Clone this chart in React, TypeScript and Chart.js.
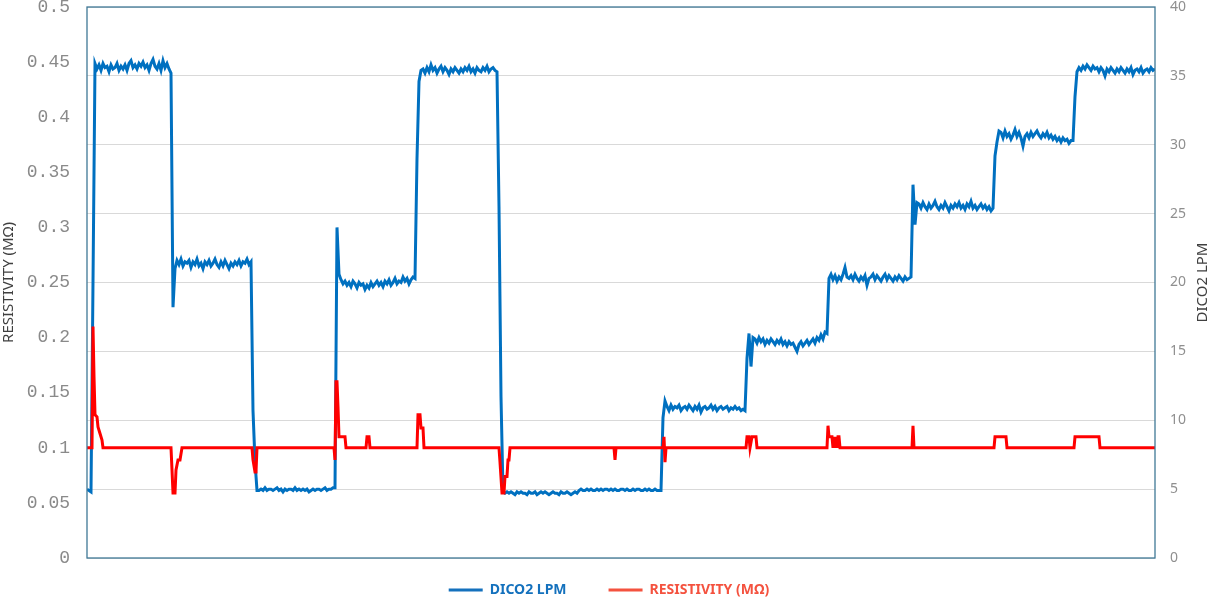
import { useEffect, useRef } from 'react';
import { Chart, registerables } from 'chart.js';

Chart.register(...registerables);

// Sampling: one DICO2 reading every 2 time units, time axis 0..1068
const SAMPLE_STEP = 2;
const TIME_MAX = 1068;

// DICO2 flow (LPM), right axis
const dico2Lpm: number[] = [
  // start + rise
  5.0, 4.9, 4.8, 20.0,
  // plateau 1
  35.9, 35.5, 35.8, 35.4, 35.9, 35.6, 35.7, 35.3, 35.8, 35.5,
  35.6, 35.9, 35.4, 35.7, 35.5, 35.8, 35.4, 35.9, 36.1, 35.6,
  35.8, 35.5, 35.9, 35.7, 36.0, 35.6, 35.8, 35.4, 35.9, 36.2,
  35.7, 35.5, 35.9, 35.4, 36.1, 35.6, 35.9, 35.5,
  // drop
  35.2, 18.2, 21.0,
  // plateau 2
  21.6, 21.3, 21.7, 21.2, 21.5, 21.4, 21.6, 21.1, 21.5, 21.3,
  21.7, 21.2, 21.4, 21.0, 21.5, 21.3, 21.6, 21.2, 21.4, 21.7,
  21.3, 21.1, 21.5, 21.2, 21.6, 21.3, 21.0, 21.4, 21.2, 21.5,
  21.3, 21.6, 21.2, 21.5, 21.4, 21.7, 21.3, 21.5,
  // drop
  10.7, 7.0, 4.9,
  // plateau 3
  4.9, 5.0, 4.9, 5.1, 4.9, 5.0, 5.0, 4.9, 5.0, 5.1,
  4.9, 5.0, 4.8, 5.0, 4.9, 5.0, 5.0, 4.9, 5.1, 4.9,
  5.0, 4.9, 5.0, 4.9, 5.0, 4.8, 4.9, 5.0, 4.9, 5.0,
  5.0, 4.9, 5.0, 5.1, 4.9, 5.0, 5.0, 5.1,
  // rise with spike
  5.1, 24.0, 20.6,
  // plateau 4
  20.2, 19.9, 20.1, 19.8, 20.0, 19.7, 20.1, 19.9, 19.6, 20.0,
  19.8, 19.9, 19.5, 19.8, 19.6, 20.0, 19.7, 19.9, 20.1, 19.8,
  20.0, 19.7, 20.1, 19.9, 20.2, 19.8, 20.0, 20.3, 19.9, 20.1,
  20.0, 20.4, 20.1, 20.3, 19.9, 20.2, 20.4,
  // rise
  20.3, 29.0, 34.6, 35.4,
  // plateau 5
  35.5, 35.2, 35.6, 35.3, 35.8, 35.4, 35.6, 35.2, 35.5, 35.7,
  35.3, 35.6, 35.4, 35.1, 35.5, 35.3, 35.6, 35.4, 35.2, 35.5,
  35.3, 35.6, 35.4, 35.7, 35.3, 35.5, 35.2, 35.6, 35.4, 35.3,
  35.6, 35.4, 35.7, 35.3, 35.5, 35.6, 35.4,
  // drop
  35.3, 25.5, 11.7, 4.8,
  // plateau 6a
  4.7, 4.8, 4.7, 4.8, 4.7, 4.6, 4.8, 4.7, 4.8, 4.7,
  4.7, 4.6, 4.8, 4.7, 4.7, 4.8, 4.6, 4.7, 4.8, 4.7,
  4.8, 4.7, 4.6, 4.7, 4.8, 4.7, 4.7, 4.6, 4.8, 4.7,
  4.7, 4.8, 4.7, 4.6, 4.7, 4.8, 4.7,
  // plateau 6b
  4.9, 5.0, 4.9, 4.9, 5.0, 4.9, 5.0, 4.9, 4.9, 5.0,
  4.9, 5.0, 4.9, 5.0, 5.0, 4.9, 5.0, 4.9, 5.0, 4.9,
  4.9, 5.0, 5.0, 4.9, 5.0, 4.9, 4.9, 5.0, 4.9, 5.0,
  5.0, 4.9, 4.9, 5.0, 4.9, 5.0, 4.9, 4.9, 5.0, 4.9,
  4.9, 4.9,
  // rise
  10.2, 11.4,
  // plateau 7
  11.0, 10.7, 11.1, 10.8, 11.0, 10.9, 11.1, 10.7, 10.9, 11.0,
  10.8, 11.1, 10.9, 10.7, 11.0, 10.8, 11.1, 10.6, 10.9, 11.0,
  10.8, 10.9, 11.1, 10.8, 11.0, 10.7, 10.9, 11.0, 10.8, 10.9,
  11.0, 10.7, 10.9, 10.8, 11.0, 10.8, 10.9, 10.7, 10.8,
  // rise with wobble
  10.7, 14.5, 16.3, 13.9, 16.0,
  // plateau 8
  15.9, 15.6, 16.0, 15.7, 15.9, 15.5, 15.8, 15.6, 15.9, 15.7,
  15.5, 15.8, 15.6, 15.9, 15.5, 15.7, 15.4, 15.7, 15.5, 15.6,
  15.3, 15.0, 15.5, 15.7, 15.4, 15.6, 15.8, 15.5, 15.7, 15.9,
  15.6, 16.0, 15.8, 16.2, 15.9, 16.4,
  // rise
  16.3, 20.3,
  // plateau 9
  20.6, 20.2, 20.5, 20.1, 20.4, 20.2, 20.6, 21.1, 20.4, 20.3,
  20.5, 20.2, 20.6, 20.3, 20.1, 20.4, 20.2, 20.5, 19.8, 20.3,
  20.4, 20.6, 20.2, 20.5, 20.3, 20.1, 20.4, 20.6, 20.2, 20.5,
  20.3, 20.1, 20.4, 20.2, 20.5, 20.3, 20.1, 20.4, 20.2, 20.3,
  20.4,
  // rise with spike
  27.1, 24.2, 25.8,
  // plateau 10
  25.7, 25.4, 25.8, 25.5, 25.3, 25.7, 25.4, 25.6, 25.9, 25.5,
  25.3, 25.6, 25.4, 25.8, 25.5, 25.2, 25.6, 25.4, 25.7, 25.5,
  25.8, 25.4, 25.6, 25.3, 25.7, 25.5, 25.9, 25.4, 25.6, 25.3,
  25.5, 25.7, 25.4, 25.6, 25.3, 25.5, 25.2,
  // rise
  25.4, 29.2, 30.2, 31.0,
  // plateau 11
  30.9, 30.5, 31.0, 30.6, 30.8, 30.4, 30.7, 31.1, 30.6, 30.9,
  30.5, 29.9, 30.6, 30.8, 30.5, 30.9, 30.6, 30.8, 31.0, 30.7,
  30.5, 30.8, 30.6, 30.9, 30.5, 30.7, 30.4, 30.6, 30.3, 30.5,
  30.2, 30.5, 30.3, 30.4, 30.1, 30.3,
  // rise
  30.3, 33.5, 35.3,
  // plateau 12
  35.6, 35.4, 35.7, 35.5, 35.8, 35.6, 35.4, 35.7, 35.5, 35.6,
  35.3, 35.6, 35.4, 35.0, 35.5, 35.3, 35.6, 35.4, 35.2, 35.5,
  35.3, 35.6, 35.4, 35.2, 35.5, 35.3, 35.6, 35.1, 35.4, 35.5,
  35.3, 35.6, 35.2, 35.4, 35.5, 35.3, 35.6, 35.4, 35.5,
];

// Resistivity (MΩ), left axis: change points (time, value)
const resistivityTime: number[] = [
  0, 5, 6, 7, 8, 10, 11, 13, 15, 16,
  84, 85, 86, 88, 89, 91, 93, 95,
  165, 166, 168, 169, 170,
  247, 248, 249, 250, 251, 252, 258, 259,
  279, 280, 282, 283,
  330, 331, 333, 334, 336, 337,
  412, 413, 415, 417, 418, 420, 421, 422, 423,
  527, 528, 529,
  576, 577, 578, 579,
  659, 660, 662, 663, 665, 669, 670,
  740, 741, 742, 745, 746, 747, 748, 749, 750, 751, 752, 753,
  825, 826, 827,
  907, 908, 919, 920,
  987, 988, 1012, 1013, 1068,
];
const resistivityMOhm: number[] = [
  0.1, 0.1, 0.21, 0.165, 0.13, 0.128, 0.119, 0.113, 0.107, 0.1,
  0.1, 0.08, 0.059, 0.059, 0.08, 0.089, 0.089, 0.1,
  0.1, 0.089, 0.078, 0.078, 0.1,
  0.1, 0.089, 0.16, 0.16, 0.137, 0.11, 0.11, 0.1,
  0.1, 0.11, 0.11, 0.1,
  0.1, 0.13, 0.13, 0.118, 0.118, 0.1,
  0.1, 0.087, 0.059, 0.059, 0.074, 0.074, 0.089, 0.089, 0.1,
  0.1, 0.089, 0.1,
  0.1, 0.11, 0.087, 0.1,
  0.1, 0.11, 0.11, 0.1, 0.11, 0.11, 0.1,
  0.1, 0.12, 0.11, 0.11, 0.1, 0.11, 0.1, 0.11, 0.1, 0.11, 0.11, 0.1,
  0.1, 0.12, 0.1,
  0.1, 0.11, 0.11, 0.1,
  0.1, 0.11, 0.11, 0.1, 0.1,
];

const LEFT_TITLE = 'RESISTIVITY (MΩ)';
const RIGHT_TITLE = 'DICO2 LPM';
const DICO_COLOR = '#0070c0';
const RES_COLOR = '#ff0000';
const DICO_LEGEND = '#1471bd';
const RES_LEGEND = '#f4523f';
const FONT_SANS = '"Noto Sans", sans-serif';

const frame = {
  id: 'frame',
  afterLayout(chart: any) {
    const lg = chart.legend;
    if (lg) {
      lg.top = 541;
      lg.bottom = 599;
      lg.height = 58;
      lg.left = 10;
    }
  },
  afterDatasetsDraw(chart: any) {
    const { ctx, chartArea } = chart;
    ctx.save();
    ctx.strokeStyle = '#3f7896';
    ctx.lineWidth = 1.3;
    ctx.strokeRect(chartArea.left, chartArea.top, chartArea.right - chartArea.left, chartArea.bottom - chartArea.top);
    ctx.restore();
  },
  afterDraw(chart: any) {
    const { ctx, chartArea } = chart;
    ctx.save();
    ctx.translate(1203, (chartArea.top + chartArea.bottom) / 2);
    ctx.rotate(-Math.PI / 2);
    ctx.font = `15px ${FONT_SANS}`;
    ctx.fillStyle = '#404040';
    ctx.textAlign = 'center';
    ctx.textBaseline = 'middle';
    ctx.fillText(RIGHT_TITLE, 0, 0);
    ctx.restore();
  },
};

export default function App() {
  const ref = useRef<HTMLCanvasElement | null>(null);

  useEffect(() => {
    if (!ref.current) return;
    const dicoData = dico2Lpm.map((v, i) => ({ x: i * SAMPLE_STEP, y: v }));
    const resData = resistivityTime.map((t, i) => ({ x: t, y: resistivityMOhm[i] }));

    const chart = new Chart(ref.current, {
      type: 'line',
      data: {
        datasets: [
          {
            label: LEFT_TITLE,
            data: resData,
            yAxisID: 'y',
            borderColor: RES_COLOR,
            backgroundColor: RES_COLOR,
            borderWidth: 3,
            pointRadius: 0,
            tension: 0,
            fill: false,
          },
          {
            label: RIGHT_TITLE,
            data: dicoData,
            yAxisID: 'y1',
            borderColor: DICO_COLOR,
            backgroundColor: DICO_COLOR,
            borderWidth: 3,
            pointRadius: 0,
            tension: 0,
            fill: false,
          },
        ],
      },
      options: {
        animation: false,
        responsive: false,
        maintainAspectRatio: false,
        layout: { padding: { top: 7, left: 0, right: 0, bottom: 0 } },
        plugins: {
          tooltip: { enabled: false },
          legend: {
            position: 'bottom',
            maxHeight: 20,
            labels: {
              padding: 42,
              boxWidth: 34,
              boxHeight: 3,
              font: { family: FONT_SANS, size: 14, weight: 'bold' },
              generateLabels: () => [
                { text: RIGHT_TITLE, fillStyle: DICO_LEGEND, strokeStyle: DICO_LEGEND, lineWidth: 0, fontColor: DICO_LEGEND, hidden: false, datasetIndex: 1 },
                { text: LEFT_TITLE, fillStyle: RES_LEGEND, strokeStyle: RES_LEGEND, lineWidth: 0, fontColor: RES_LEGEND, hidden: false, datasetIndex: 0 },
              ],
            },
          },
        },
        scales: {
          x: {
            type: 'linear',
            min: 0,
            max: TIME_MAX,
            grid: { display: false, drawTicks: false },
            border: { display: false },
            ticks: { display: false },
            afterFit: (s: any) => {
              s.height = 21;
              s.paddingLeft = 0;
              s.paddingRight = 0;
            },
          },
          y: {
            position: 'left',
            min: 0,
            max: 0.5,
            ticks: {
              stepSize: 0.05,
              padding: 17,
              color: '#8a8a8a',
              font: { family: '"Liberation Mono", monospace', size: 18 },
              callback: (v: any) => String(Number(Number(v).toFixed(2))),
            },
            grid: { display: false, drawTicks: false },
            border: { display: false },
            title: {
              display: true,
              text: LEFT_TITLE,
              color: '#404040',
              padding: 0,
              font: { family: FONT_SANS, size: 15 },
            },
            afterFit: (s: any) => {
              s.width = 87;
              s.paddingTop = 0;
              s.paddingBottom = 0;
            },
          },
          y1: {
            position: 'right',
            min: 0,
            max: 40,
            ticks: {
              stepSize: 5,
              padding: 15,
              color: '#8f8f8f',
              font: { family: FONT_SANS, size: 14 },
            },
            grid: { color: '#d9d9d9', lineWidth: 1, drawTicks: false },
            border: { display: false },
            afterFit: (s: any) => {
              s.width = 53;
              s.paddingTop = 0;
              s.paddingBottom = 0;
            },
          },
        },
      } as any,
      plugins: [frame],
    });
    return () => chart.destroy();
  }, []);

  return (
    <div style={{ position: 'fixed', left: 0, top: 0, width: 1208, height: 599, background: '#ffffff' }}>
      <canvas ref={ref} width={1208} height={599} style={{ width: 1208, height: 599, display: 'block' }} />
    </div>
  );
}
